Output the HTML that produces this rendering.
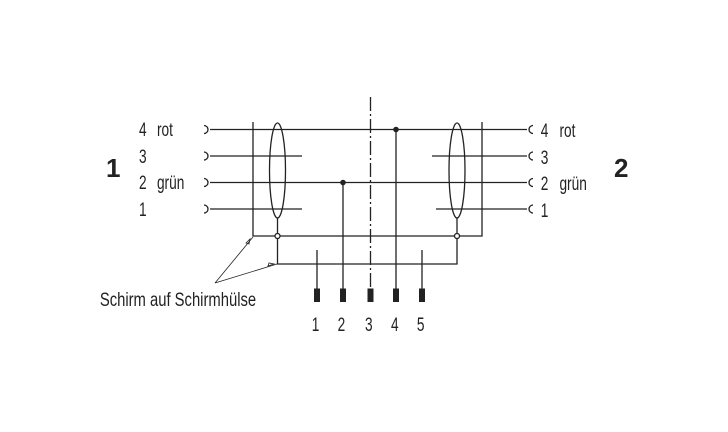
<!DOCTYPE html><html><head><style>body{margin:0;background:#fff}svg{display:block}text{font-family:"Liberation Sans",sans-serif;fill:#222}</style></head><body>
<svg width="728" height="432" viewBox="0 0 728 432" xmlns="http://www.w3.org/2000/svg">
<g stroke="#222" stroke-width="1.3" fill="none">
<path d="M210 129.5H527M210 156H302M210 182.5H527M210 209H302M432 156H527M436 209H527"/>
<path d="M204 125.5a4 4 0 0 1 0 8M204 152a4 4 0 0 1 0 8M204 178.5a4 4 0 0 1 0 8M204 205a4 4 0 0 1 0 8"/>
<path d="M533 125.5a4 4 0 0 0 0 8M533 152a4 4 0 0 0 0 8M533 178.5a4 4 0 0 0 0 8M533 205a4 4 0 0 0 0 8"/>
<path d="M253 122V236H482V122M277.5 218V264H457V218M343 182.5V289M396 129.5V289M317 250V289M422 250V289"/>
<ellipse cx="277.5" cy="170.5" rx="8" ry="47.5"/>
<ellipse cx="457" cy="170.5" rx="8" ry="47.5"/>
<path d="M370.5 97V289" stroke-dasharray="14 3 2 3"/>
<path d="M215 283L253 237M215 283L277 264" stroke-width="0.8"/>
<path d="M246 243l4 -4l-1 5zM268 266l6 -2l-5 -1z" stroke-width="0.8"/>
<circle cx="277.5" cy="236" r="2.5" fill="#fff"/>
<circle cx="457" cy="236" r="2.5" fill="#fff"/>
</g>
<circle cx="343" cy="182.5" r="2.8" fill="#222"/>
<circle cx="396" cy="129.5" r="2.8" fill="#222"/>
<g fill="#222"><rect x="314" y="288.5" width="6" height="13.5"/><rect x="340" y="288.5" width="6" height="13.5"/><rect x="367.5" y="288.5" width="6" height="13.5"/><rect x="393" y="288.5" width="6" height="13.5"/><rect x="419" y="288.5" width="6" height="13.5"/></g>
<g font-size="19" transform="scale(0.72 1)">
<text x="193" y="136">4</text><text x="218" y="136">rot</text><text x="193" y="163">3</text><text x="193" y="189">2</text><text x="218" y="189">grün</text><text x="193" y="216">1</text>
<text x="751" y="137">4</text><text x="777" y="137">rot</text><text x="751" y="164">3</text><text x="751" y="190">2</text><text x="777" y="190">grün</text><text x="751" y="217">1</text>
<text x="433" y="331">1</text><text x="469" y="331">2</text><text x="507" y="331">3</text><text x="543" y="331">4</text><text x="579" y="331">5</text>
</g>
<text font-size="19" transform="scale(0.78 1)" x="128" y="306">Schirm auf Schirmhülse</text>
<text x="106" y="177" font-size="26" font-weight="bold">1</text>
<text x="614" y="177" font-size="26" font-weight="bold">2</text>
</svg></body></html>
